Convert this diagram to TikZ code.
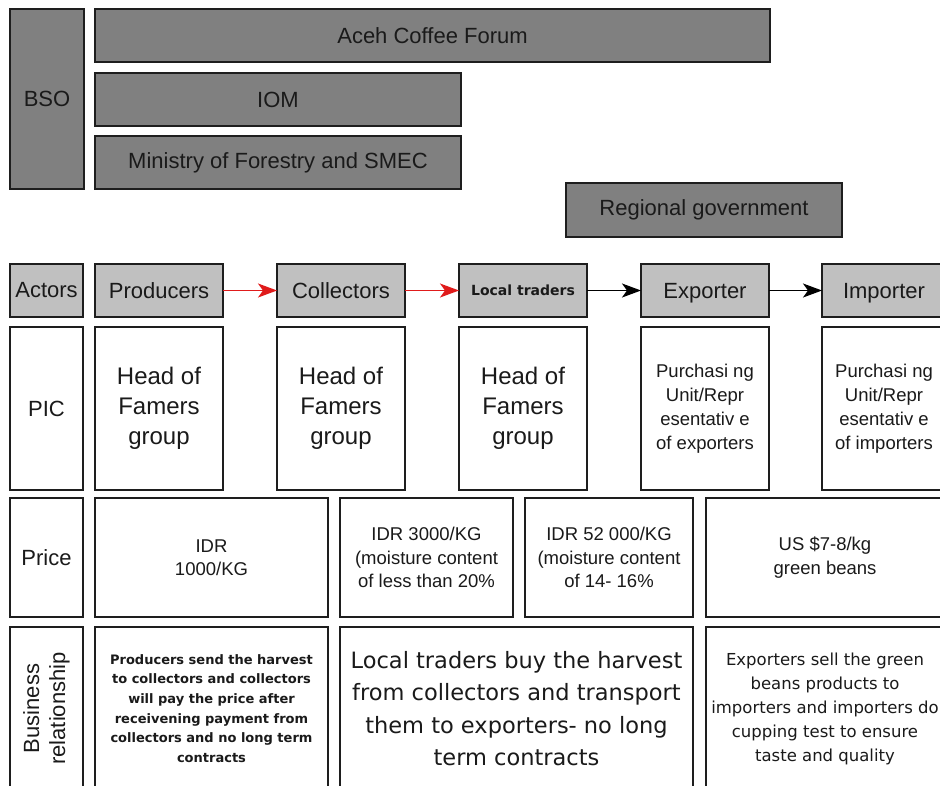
\documentclass[tikz,border=0pt]{standalone}
\usepackage{fontspec}
\setmainfont{Liberation Sans}
\newfontfamily\dvs{DejaVu Sans}
\usetikzlibrary{arrows.meta}
\definecolor{darkbox}{HTML}{808080}
\definecolor{lightbox}{HTML}{C0C0C0}
\definecolor{edge}{HTML}{1E1E1E}
\definecolor{ink}{HTML}{1A1A1A}
\definecolor{arrowred}{HTML}{E01B1B}
\newcommand\cellbox[7]{\node[#1, minimum width={#5-#3}, minimum height={#6-#4}] (#2) at ({(#3+#5)/2},{(#4+#6)/2}) {#7};}
\begin{document}
\begin{tikzpicture}[x=1pt,y=-1pt,
  cell/.style={draw=edge, line width=1.4pt, inner sep=0pt, outer sep=0pt, align=center, text=ink, font=\fontsize{22}{26}\selectfont},
  darkcell/.style={cell, fill=darkbox},
  lightcell/.style={cell, fill=lightbox},
  whitecell/.style={cell, fill=white},
  nodesc/.style={text depth=0pt},
  redflow/.style={draw=arrowred, line width=1.5pt, -{Stealth[length=19pt,width=14pt,inset=5pt]}},
  blackflow/.style={draw=black, line width=1.7pt, -{Stealth[length=19pt,width=14pt,inset=5pt]}},
  bigtext/.style={font=\fontsize{24}{30}\selectfont},
  midtext/.style={font=\fontsize{18.5}{24}\selectfont},
  pricetext/.style={font=\fontsize{18.5}{23.5}\selectfont}
]
\useasboundingbox (0,0) rectangle (940,785);
\fill[white] (0,0) rectangle (940,785);
\clip (0,0) rectangle (940,785);

% BSO block
\cellbox{darkcell}{bso}{10}{9}{84}{189}{BSO}
\cellbox{darkcell}{aceh}{95}{9}{770}{62}{Aceh Coffee Forum}
\cellbox{darkcell}{iom}{95}{73}{461}{126}{IOM}
\cellbox{darkcell}{ministry}{95}{136}{461}{189}{Ministry of Forestry and SMEC}
\cellbox{darkcell}{regional}{566}{183}{842}{237}{Regional government}

% Actors row
\cellbox{lightcell}{actors}{10}{264}{83}{317}{Actors}
\cellbox{lightcell}{prod}{95}{264}{223}{317}{Producers}
\cellbox{lightcell}{coll}{277}{264}{405}{317}{Collectors}
\cellbox{lightcell, font=\dvs\bfseries\fontsize{14}{16}\selectfont}{local}{459}{264}{587}{317}{Local traders}
\cellbox{lightcell, nodesc}{exp}{641}{264}{769}{317}{Exporter}
\cellbox{lightcell, nodesc}{imp}{822}{264}{946}{317}{Importer}

% PIC row
\cellbox{whitecell}{pic}{10}{327}{83}{490}{PIC}
\cellbox{whitecell, bigtext}{picprod}{95}{327}{223}{490}{Head of\\Famers\\group}
\cellbox{whitecell, bigtext}{piccoll}{277}{327}{405}{490}{Head of\\Famers\\group}
\cellbox{whitecell, bigtext}{piclocal}{459}{327}{587}{490}{Head of\\Famers\\group}
\cellbox{whitecell, midtext}{picexp}{641}{327}{769}{490}{Purchasi ng\\Unit/Repr\\esentativ e\\of exporters}
\cellbox{whitecell, midtext}{picimp}{822}{327}{946}{490}{Purchasi ng\\Unit/Repr\\esentativ e\\of importers}

% Price row
\cellbox{whitecell}{price}{10}{498}{83}{617}{Price}
\cellbox{whitecell, pricetext}{price1}{95}{498}{328}{617}{IDR\\1000/KG}
\cellbox{whitecell, pricetext}{price2}{340}{498}{513}{617}{IDR 3000/KG\\(moisture content\\of less than 20\%}
\cellbox{whitecell, pricetext}{price3}{525}{498}{693}{617}{IDR 52 000/KG\\(moisture content\\of 14- 16\%}
\cellbox{whitecell, pricetext}{price4}{706}{498}{944}{617}{US \$7-8/kg\\green beans}

% Business relationship row
\cellbox{whitecell}{busbox}{10}{627}{83}{790}{}
\node[text=ink, align=center, rotate=90, inner sep=0pt, font=\fontsize{22}{26}\selectfont] (buslabel) at (busbox.center) {Business\\relationship};
\cellbox{whitecell, font=\dvs\bfseries\fontsize{13}{19.7}\selectfont}{bus1}{95}{627}{328}{790}{Producers send the harvest\\to collectors and collectors\\will pay the price after\\receivening payment from\\collectors and no long term\\contracts}
\cellbox{whitecell, font=\dvs\fontsize{22.5}{32.3}\selectfont}{bus2}{340}{627}{693}{790}{Local traders buy the harvest\\from collectors and transport\\them to exporters- no long\\term contracts}
\cellbox{whitecell, font=\dvs\fontsize{16.5}{24}\selectfont}{bus3}{706}{627}{944}{790}{Exporters sell the green\\beans products to\\importers and importers do\\cupping test to ensure\\taste and quality}

% flows
\draw[redflow] (prod) -- (coll);
\draw[redflow] (coll) -- (local);
\draw[blackflow] (local) -- (exp);
\draw[blackflow] (exp) -- (imp);
\end{tikzpicture}
\end{document}
